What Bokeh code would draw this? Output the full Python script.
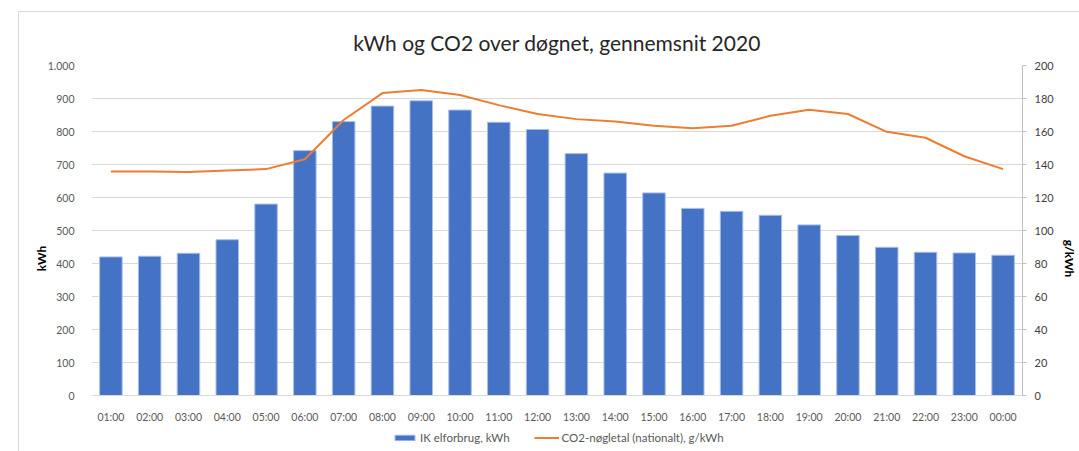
from bokeh.plotting import figure
from bokeh.models import (ColumnDataSource, FactorRange, Range1d, LinearAxis,
                          FixedTicker, Legend, LegendItem, InlineStyleSheet)
from bokeh.embed import file_html
from bokeh.resources import INLINE

hours = ["01:00", "02:00", "03:00", "04:00", "05:00", "06:00", "07:00", "08:00",
         "09:00", "10:00", "11:00", "12:00", "13:00", "14:00", "15:00", "16:00",
         "17:00", "18:00", "19:00", "20:00", "21:00", "22:00", "23:00", "00:00"]
kwh = [420, 422, 431, 472, 580, 742, 830, 877, 893, 865, 828, 806,
       733, 674, 614, 567, 558, 546, 517, 485, 449, 434, 432, 425]
co2 = [135.8, 135.7, 135.4, 136.3, 137.2, 143.2, 167.0, 183.3, 185.1, 182.1, 176.0, 170.6,
       167.5, 166.0, 163.5, 161.9, 163.5, 169.5, 173.2, 170.6, 159.8, 156.2, 145.0, 137.2]
left_ticks = [0, 100, 200, 300, 400, 500, 600, 700, 800, 900, 1000]
left_labels = ["0", "100", "200", "300", "400", "500", "600", "700", "800", "900", "1.000"]
right_ticks = [0, 20, 40, 60, 80, 100, 120, 140, 160, 180, 200]

title_text = "kWh og CO2 over døgnet, gennemsnit 2020"
bar_label = "IK elforbrug, kWh"
line_label = "CO2-nøgletal (nationalt), g/kWh"

FONT = "Lato"
GREY = "#595959"

# layout (pixels): figure size, plot-area position; the value axes span 0..max
W, H = 1079, 451
TOP, ZERO_Y = 65, 395          # pixel rows of the axis maximum and of zero
LEFT, RIGHT = 91, 1029
below_frac = (H - ZERO_Y) / (ZERO_Y - TOP)   # extra room under zero for labels/legend

src = ColumnDataSource(dict(hour=hours, kwh=kwh, co2=co2))

border_css = InlineStyleSheet(css=""":host::after { content: ''; position: absolute;
  left: 18px; top: 11px; right: 0; bottom: 0; border-left: 1px solid #d9d9d9;
  border-top: 1px solid #d9d9d9; pointer-events: none; }""")

p = figure(width=W, height=H, x_range=FactorRange(*hours),
           y_range=Range1d(-max(left_ticks) * below_frac, max(left_ticks)),
           output_backend="svg", toolbar_location=None,
           min_border_left=LEFT, min_border_right=W - RIGHT, min_border_top=TOP,
           min_border_bottom=0, stylesheets=[border_css])
p.outline_line_color = None
p.background_fill_color = "white"

p.title.text = title_text
p.title.align = "center"
p.title.text_font = FONT
p.title.text_font_size = "21px"
p.title.text_font_style = "normal"
p.title.text_color = "#262626"
p.title.standoff = 22

p.extra_y_ranges = {"co2": Range1d(-max(right_ticks) * below_frac, max(right_ticks))}

bars = p.vbar(x="hour", top="kwh", width=0.58, source=src,
              fill_color="#4472C4", line_color="#a9bde6", line_width=1)
line = p.line(x="hour", y="co2", source=src, y_range_name="co2",
              line_color="#ED7D31", line_width=2)

# left axis
ly = p.yaxis[0]
ly.ticker = FixedTicker(ticks=left_ticks)
ly.major_label_overrides = {t: l for t, l in zip(left_ticks, left_labels)}
ly.axis_line_color = None
ly.major_tick_line_color = None
ly.minor_tick_line_color = None
ly.major_label_text_font = FONT
ly.major_label_text_font_size = "10.5px"
ly.major_label_text_color = GREY
ly.major_label_standoff = 11
ly.axis_label = "kWh"
ly.axis_label_text_font = FONT
ly.axis_label_text_font_size = "12px"
ly.axis_label_text_font_style = "bold"
ly.axis_label_text_color = "black"
ly.axis_label_standoff = -4

# right axis
ry = LinearAxis(y_range_name="co2", ticker=FixedTicker(ticks=right_ticks),
                bounds=(0, max(right_ticks)))
ry.axis_line_color = "#bfbfbf"
ry.major_tick_line_color = "#bfbfbf"
ry.major_tick_out = 4
ry.major_tick_in = 0
ry.minor_tick_line_color = None
ry.major_label_text_font = FONT
ry.major_label_text_font_size = "11px"
ry.major_label_text_color = "#404040"
ry.major_label_standoff = 8
ry.axis_label = "g/kWh"
ry.axis_label_text_font = FONT
ry.axis_label_text_font_size = "12px"
ry.axis_label_text_font_style = "bold"
ry.axis_label_text_color = "black"
ry.axis_label_standoff = 5
p.add_layout(ry, "right")

# x axis, pinned at zero inside the plot area
xa = p.xaxis[0]
xa.fixed_location = 0
xa.axis_line_color = "#d9d9d9"
xa.major_tick_line_color = None
xa.minor_tick_line_color = None
xa.major_label_text_font = FONT
xa.major_label_text_font_size = "10.5px"
xa.major_label_text_color = GREY
xa.major_label_standoff = 9

p.xgrid.grid_line_color = None
p.ygrid.grid_line_color = "#d9d9d9"

legend = Legend(items=[LegendItem(label=bar_label, renderers=[bars]),
                       LegendItem(label=line_label, renderers=[line])],
                orientation="horizontal", location=(301, 7))
legend.border_line_color = None
legend.background_fill_alpha = 0
legend.padding = 0
legend.margin = 0
legend.spacing = 24
legend.glyph_width = 25
legend.glyph_height = 7
legend.label_height = 14
legend.label_standoff = 3
legend.label_text_font = FONT
legend.label_text_font_size = "11.5px"
legend.label_text_color = GREY
p.add_layout(legend, "center")

open("out.html", "w").write(file_html(p, INLINE))
